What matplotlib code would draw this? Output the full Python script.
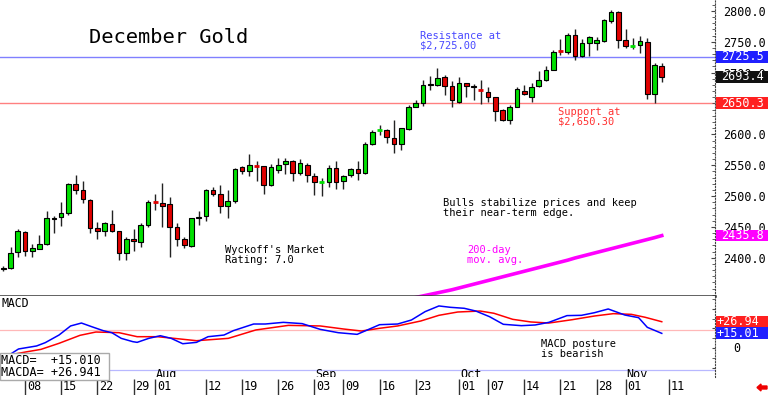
import numpy as np
import matplotlib.pyplot as plt
from matplotlib.patches import Rectangle, Polygon
from matplotlib.transforms import blended_transform_factory

# свечи: индекс торгового дня (0 = 08 июля)
idx = list(range(-3, 89))
opens = [2384, 2383, 2409, 2441, 2411, 2414, 2422, 2465, 2466, 2472,
         2519, 2509, 2493, 2448, 2444, 2455, 2443, 2407, 2431, 2426,
         2453, 2490, 2488, 2487, 2449, 2430, 2419, 2464, 2467, 2510,
         2503, 2484, 2492, 2547, 2540, 2549, 2548, 2518, 2542, 2552,
         2557, 2537, 2550, 2532, 2522, 2523, 2545, 2524, 2534, 2543,
         2538, 2584, 2606, 2607, 2594, 2584, 2608, 2645, 2651, 2682,
         2680, 2693, 2678, 2653, 2683, 2678, 2673, 2669, 2660, 2639,
         2624, 2645, 2671, 2660, 2678, 2688, 2705, 2735, 2734, 2761,
         2727, 2748, 2748, 2752, 2784, 2798, 2753, 2742, 2745, 2750,
         2666, 2711]
highs = [2386, 2418, 2446, 2443, 2422, 2437, 2475, 2468, 2490, 2521,
         2534, 2525, 2495, 2458, 2458, 2478, 2444, 2434, 2446, 2456,
         2493, 2504, 2521, 2498, 2456, 2434, 2465, 2475, 2511, 2515,
         2518, 2510, 2545, 2549, 2568, 2556, 2548, 2552, 2561, 2561,
         2558, 2560, 2553, 2538, 2529, 2550, 2557, 2534, 2545, 2556,
         2587, 2607, 2615, 2608, 2624, 2611, 2648, 2656, 2688, 2694,
         2707, 2696, 2687, 2693, 2684, 2682, 2688, 2676, 2661, 2641,
         2648, 2676, 2680, 2684, 2702, 2711, 2737, 2754, 2764, 2770,
         2754, 2760, 2758, 2787, 2801, 2800, 2771, 2756, 2760, 2757,
         2716, 2716]
lows = [2378, 2381, 2401, 2403, 2401, 2414, 2421, 2440, 2452, 2470,
        2503, 2489, 2440, 2430, 2435, 2442, 2396, 2397, 2411, 2418,
        2449, 2477, 2450, 2401, 2419, 2415, 2418, 2453, 2460, 2500,
        2473, 2465, 2488, 2536, 2532, 2525, 2503, 2516, 2537, 2536,
        2525, 2534, 2523, 2502, 2500, 2515, 2511, 2511, 2531, 2526,
        2536, 2583, 2599, 2586, 2569, 2574, 2607, 2644, 2646, 2672,
        2678, 2664, 2644, 2651, 2661, 2656, 2649, 2653, 2621, 2621,
        2617, 2644, 2664, 2653, 2676, 2687, 2704, 2729, 2731, 2721,
        2726, 2727, 2736, 2750, 2781, 2740, 2740, 2738, 2732, 2658,
        2650, 2685]
closes = [2382, 2408, 2444, 2411, 2415, 2422, 2465, 2462, 2473, 2519,
          2510, 2495, 2448, 2443, 2457, 2444, 2407, 2430, 2427, 2453,
          2491, 2489, 2484, 2449, 2430, 2421, 2464, 2466, 2510, 2503,
          2484, 2492, 2543, 2540, 2550, 2548, 2518, 2547, 2551, 2557,
          2537, 2553, 2534, 2522, 2523, 2545, 2523, 2533, 2543, 2538,
          2585, 2604, 2607, 2595, 2584, 2610, 2645, 2651, 2680, 2680,
          2692, 2678, 2655, 2683, 2679, 2676, 2672, 2660, 2638, 2624,
          2645, 2673, 2665, 2677, 2688, 2705, 2734, 2734, 2761, 2727,
          2748, 2758, 2753, 2785, 2798, 2753, 2744, 2743, 2752, 2666,
          2712, 2693.4]

# 200-дневная средняя
ma_idx = list(range(54, 89))
ma_vals = [2335.5, 2338, 2340.5, 2343, 2345.5, 2348, 2351, 2354, 2357, 2360,
           2363, 2366, 2369, 2372, 2375, 2378, 2381, 2384, 2387, 2390,
           2393, 2396, 2399.5, 2402.5, 2405.5, 2408.5, 2411.5, 2414.5, 2417.5, 2420.5,
           2423.5, 2426.5, 2429.5, 2432.5, 2435.8]

# MACD (синяя) и сигнальная (красная)
macd_idx = [-2.2, -0.9, 1.6, 2.8, 4.7, 6.3, 7.8, 9.2, 10.8, 12.0, 13.3, 14.9, 15.5,
            17.1, 18.7, 20.2, 21.8, 23.7, 25.3, 27.5, 28.8, 31.6, 33.2, 35.7, 38.3,
            40.8, 43.3, 45.9, 49.0, 51.5, 53.4, 55.3, 57.2, 58.8, 60.7, 62.3, 64.2,
            66.1, 68.6, 70.5, 72.4, 74.9, 76.9, 78.7, 80.6, 82.9, 84.8, 86.0, 88]
macd_vals = [-7.2, -1.0, 2.1, 5.5, 13.3, 22.6, 25.6, 21.9, 17.8, 15.7, 9.9, 6.5, 5.8,
             9.9, 12.6, 9.9, 4.4, 5.8, 11.6, 13.3, 17.8, 24.6, 24.6, 26.3, 25.0,
             19.1, 15.7, 14.0, 23.9, 24.6, 28.7, 37.3, 43.1, 41.7, 40.7, 37.9, 32.1,
             24.3, 22.9, 23.6, 26.3, 33.2, 33.5, 36.2, 40.0, 33.8, 31.1, 21.2, 15.01]
sig_idx = [-2.2, 0.3, 2.2, 4.7, 7.6, 9.8, 13.0, 15.5, 18.3, 20.6, 23.7, 28.1, 31.9,
           36.4, 40.8, 44.0, 46.5, 49.0, 51.5, 54.7, 57.2, 59.8, 62.9, 64.8, 67.4,
           69.9, 72.4, 75.6, 78.7, 81.3, 83.8, 85.7, 88]
sig_vals = [-7.2, -3.8, -1.4, 4.8, 13.0, 16.4, 15.7, 11.6, 11.6, 9.9, 7.5, 9.9, 18.5,
            23.2, 22.6, 19.5, 17.4, 20.2, 22.6, 27.7, 33.5, 36.9, 37.9, 35.6, 29.4,
            26.7, 25.6, 29.0, 32.8, 35.2, 34.5, 31.5, 26.94]

date_idx = [0, 5, 10, 15, 18, 25, 30, 35, 40, 44, 49, 54, 60, 64, 69, 74, 79, 83, 89]
date_labels = ['08', '15', '22', '29', '01', '12', '19', '26', '03', '09',
               '16', '23', '01', '07', '14', '21', '28', '01', '11']
month_idx = [18, 40, 60, 83]
month_labels = ['Aug', 'Sep', 'Oct', 'Nov']

price_ticks = [2400, 2450, 2500, 2550, 2600, 2700, 2750, 2800]
resistance = 2725.5
support = 2650.3

MONO = 'DejaVu Sans Mono'
GREEN = '#00e000'
RED = '#e00000'
W, H = 768, 395


def rect(x0, y0, x1, y1):
    return [x0 / W, 1 - y1 / H, (x1 - x0) / W, (y1 - y0) / H]


fig = plt.figure(figsize=(W / 100, H / 100), dpi=100)
fig.patch.set_facecolor('white')

ax = fig.add_axes(rect(0, 0, 715, 296))
axm = fig.add_axes(rect(0, 296, 715, 377), sharex=ax)
axd = fig.add_axes(rect(0, 377, 715, 395), sharex=ax)

x0 = -25 / 7.236
ax.set_xlim(x0, x0 + 715 / 7.236)
ax.set_ylim(2337.9, 2817.8)
axm.set_ylim(-29.7, 53.3)
axd.set_ylim(0, 1)

for a in (ax, axm, axd):
    for s in a.spines.values():
        s.set_visible(False)
    a.tick_params(axis='x', which='both', bottom=False, labelbottom=False)
for a in (ax, axm):
    a.spines['right'].set_visible(True)
    a.spines['right'].set_linestyle(':')
    a.spines['right'].set_color('#444444')
ax.spines['bottom'].set_visible(True)
ax.spines['bottom'].set_color('#333333')
ax.spines['bottom'].set_linewidth(1.8)
axd.set_yticks([])

# правая шкала цены (2650.0 закрыта плашкой поддержки)
ax.yaxis.tick_right()
ax.set_yticks(price_ticks)
ax.set_yticklabels([f'{v:.1f}' for v in price_ticks])
ax.set_yticks(np.arange(2340, 2811, 10), minor=True)
ax.tick_params(axis='y', which='major', direction='in', length=3, pad=6,
               labelsize=8.5, labelfontfamily=MONO, color='#444444')
ax.tick_params(axis='y', which='minor', direction='in', length=2, color='#444444')
axm.yaxis.tick_right()
axm.set_yticks([-20, 0, 20, 40])
axm.set_yticklabels([])
axm.set_yticks(np.arange(-20, 51, 10), minor=True)
axm.tick_params(axis='y', which='both', direction='in', length=2, color='#444444')

# свечи
for i, o, h, l, c in zip(idx, opens, highs, lows, closes):
    col = GREEN if c >= o else RED
    ax.vlines(i, l, h, color='#222222', lw=1, zorder=2)
    if abs(c - o) < 2:
        ax.hlines((o + c) / 2, i - 0.35, i + 0.35, color=col, lw=2, zorder=3)
    else:
        ax.add_patch(Rectangle((i - 0.32, min(o, c)), 0.64, abs(c - o),
                               fc=col, ec='black', lw=0.8, zorder=3))

ax.axhline(resistance, color='#8080ff', lw=1, zorder=1)
ax.axhline(support, color='#ff8080', lw=1, zorder=1)
ax.plot(ma_idx, ma_vals, color='#ff00ff', lw=2.6, zorder=2)

# MACD
axm.axhline(18.5, color='#ffb8b8', lw=0.9)
axm.axhline(-22.5, color='#b8b8ff', lw=0.9)
axm.plot(sig_idx, sig_vals, color='#ff0000', lw=1.1)
axm.plot(macd_idx, macd_vals, color='#0000ff', lw=1.1)
axm.text(733 / 715, 0, '0', transform=blended_transform_factory(axm.transAxes, axm.transData),
         fontsize=8.5, family=MONO, va='center', ha='left', clip_on=False)


def side_box(a, y, text, color, h, tx):
    tr = blended_transform_factory(a.transAxes, a.transData)
    a.add_patch(Rectangle((1.0015, y - h / 2), 0.075, h, transform=tr, fc=color,
                          ec='none', clip_on=False, zorder=5))
    a.text(tx, y, text, transform=tr, color='white', fontsize=8.5, family=MONO,
           va='center', ha='left', zorder=6, clip_on=False)


side_box(ax, 2725.5, '2725.5', '#2020ff', 19, 1.009)
side_box(ax, 2693.4, '2693.4', '#111111', 19, 1.009)
side_box(ax, 2650.3, '2650.3', '#ff2020', 19, 1.009)
side_box(ax, 2435.8, '2435.8', '#ff00ff', 19, 1.009)
side_box(axm, 26.94, '+26.94', '#ff2020', 12.3, 1.002)
side_box(axm, 15.01, '+15.01', '#2020ff', 12.3, 1.002)

# даты
for i, lab in zip(date_idx, date_labels):
    axd.vlines(i, 0, 0.9, color='#333333', lw=1)
    axd.text(i + 0.25, 0.45, lab, fontsize=8.5, family=MONO, va='center', ha='left')
for i, lab in zip(month_idx, month_labels):
    axm.text(i + 0.1, -27.5, lab, fontsize=8.5, family=MONO, va='center', ha='left')


def ftxt(x, y, s, **kw):
    fig.text(x / W, 1 - y / H, s, family=MONO, va='top', ha='left',
             linespacing=0.95, **kw)


ftxt(89, 28, 'December Gold', fontsize=14.7)
ftxt(420, 31, 'Resistance at\n$2,725.00', fontsize=7.5, color='#4848ff')
ftxt(558, 107, 'Support at\n$2,650.30', fontsize=7.5, color='#ff3030')
ftxt(443, 198, 'Bulls stabilize prices and keep\ntheir near-term edge.', fontsize=7.5)
ftxt(467, 245, '200-day\nmov. avg.', fontsize=7.5, color='#ff00ff')
ftxt(225, 245, "Wyckoff's Market\nRating: 7.0", fontsize=7.5)
ftxt(541, 339, 'MACD posture\nis bearish', fontsize=7.5)
ftxt(2, 297, 'MACD', fontsize=8.3)

# рамка со значениями MACD
fig.add_artist(Rectangle((0, 1 - 380 / H), 109 / W, 27 / H, transform=fig.transFigure,
                         fc='white', ec='#aaaaaa', lw=1, zorder=5))
fig.text(1 / W, 1 - 361 / H, 'MACD=  +15.010', family=MONO, fontsize=8.5,
         va='center', ha='left', zorder=6)
fig.text(1 / W, 1 - 373 / H, 'MACDA= +26.941', family=MONO, fontsize=8.5,
         va='center', ha='left', zorder=6)

# красная стрелка в углу
arrow = [(757, 387.5), (761, 384), (761, 386), (767, 386), (767, 389), (761, 389), (761, 391)]
fig.add_artist(Polygon([(x / W, 1 - y / H) for x, y in arrow], closed=True,
                       transform=fig.transFigure, color='#ee0000'))

fig.savefig('out.png', dpi=100)
